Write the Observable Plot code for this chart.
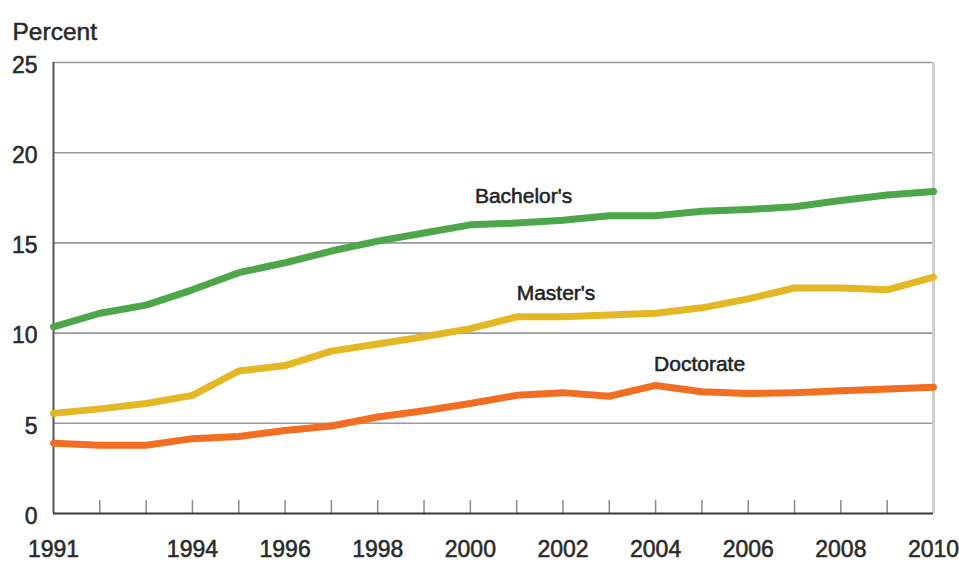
<!DOCTYPE html>
<html><head><meta charset="utf-8">
<script src="https://cdn.jsdelivr.net/npm/d3@7"></script>
<script src="https://cdn.jsdelivr.net/npm/@observablehq/plot@0.6"></script>
<style>
body{margin:0;background:#fff}
#chart svg text{stroke:#2a2a2a;stroke-width:0.55px;paint-order:stroke}
</style>
</head><body><div id="chart"></div>
<script>
const years = [1991,1992,1993,1994,1995,1996,1997,1998,1999,2000,2001,2002,2003,2004,2005,2006,2007,2008,2009,2010];
const bachelors = [10.35,11.1,11.55,12.4,13.35,13.9,14.55,15.1,15.55,16.0,16.1,16.25,16.5,16.5,16.75,16.85,17.0,17.35,17.65,17.85];
const masters = [5.55,5.8,6.1,6.55,7.9,8.2,9.0,9.4,9.8,10.25,10.9,10.9,11.0,11.1,11.4,11.9,12.5,12.5,12.4,13.1];
const doctorate = [3.9,3.78,3.78,4.15,4.27,4.6,4.85,5.35,5.7,6.1,6.55,6.7,6.5,7.1,6.75,6.65,6.7,6.8,6.9,7.0];
const seriesNames = ["Bachelor's","Master's","Doctorate"];
const seriesColors = ["#4ea64b","#e3b824","#f26e22"];
const labelYears = [2001.15, 2001.85, 2004.95];
const labelValues = [17.6, 12.2, 8.3];
const xTickLabels = [1991,1994,1996,1998,2000,2002,2004,2006,2008,2010];
const yTicks = [0,5,10,15,20,25];
const yTitle = "Percent";

const seriesValues = [bachelors, masters, doctorate];
const rows = seriesNames.flatMap((s, i) => years.map((yr, j) => ({series: s, year: yr, value: seriesValues[i][j]})));
const labels = seriesNames.map((s, i) => ({series: s, year: labelYears[i], value: labelValues[i]}));

const W = 959, H = 563, mt = 62, mb = 50, ml = 53, mr = 26;
const innerH = H - mt - mb;
const font = "'Liberation Sans', Arial, sans-serif";

const chart = Plot.plot({
  width: W, height: H,
  marginTop: mt, marginBottom: mb, marginLeft: ml, marginRight: mr,
  style: {fontFamily: font, fontSize: "23px", color: "#2a2a2a", background: "#fff"},
  x: {domain: [years[0], years[years.length - 1]], label: null},
  y: {domain: [0, 25], label: null},
  color: {domain: seriesNames, range: seriesColors},
  marks: [
    Plot.ruleY(yTicks.filter(d => d > 0), {y: d => d, stroke: "#9a9a9a", strokeWidth: 1.6}),
    Plot.ruleX([years[years.length - 1]], {x: d => d, stroke: "#cfcfcf", strokeWidth: 3}),
    Plot.tickX(years.slice(1, -1), {x: d => d, stroke: "#8a8a8a", strokeWidth: 1.5, insetTop: innerH - 13}),
    Plot.ruleX([years[0]], {x: d => d, stroke: "#555", strokeWidth: 2}),
    Plot.ruleY([0], {y: d => d, stroke: "#3a3a3a", strokeWidth: 2}),
    Plot.axisY({ticks: yTicks, tickSize: 0, tickPadding: 16, dy: 3, fontSize: 23, label: null}),
    Plot.axisX({ticks: xTickLabels, tickSize: 0, tickPadding: 27, tickFormat: d => String(d), fontSize: 23, label: null}),
    Plot.line(rows, {x: "year", y: "value", stroke: "series", z: "series", strokeWidth: 7, strokeLinejoin: "round", strokeLinecap: "round"}),
    Plot.text(labels, {x: "year", y: "value", text: "series", fontSize: 21, fill: "#222", textAnchor: "middle"}),
    Plot.text([yTitle], {frameAnchor: "top-left", text: d => d, dx: -41, dy: -40, textAnchor: "start", fontSize: 24.5, fill: "#2a2a2a"})
  ]
});
document.getElementById("chart").appendChild(chart);
</script>
</body></html>
